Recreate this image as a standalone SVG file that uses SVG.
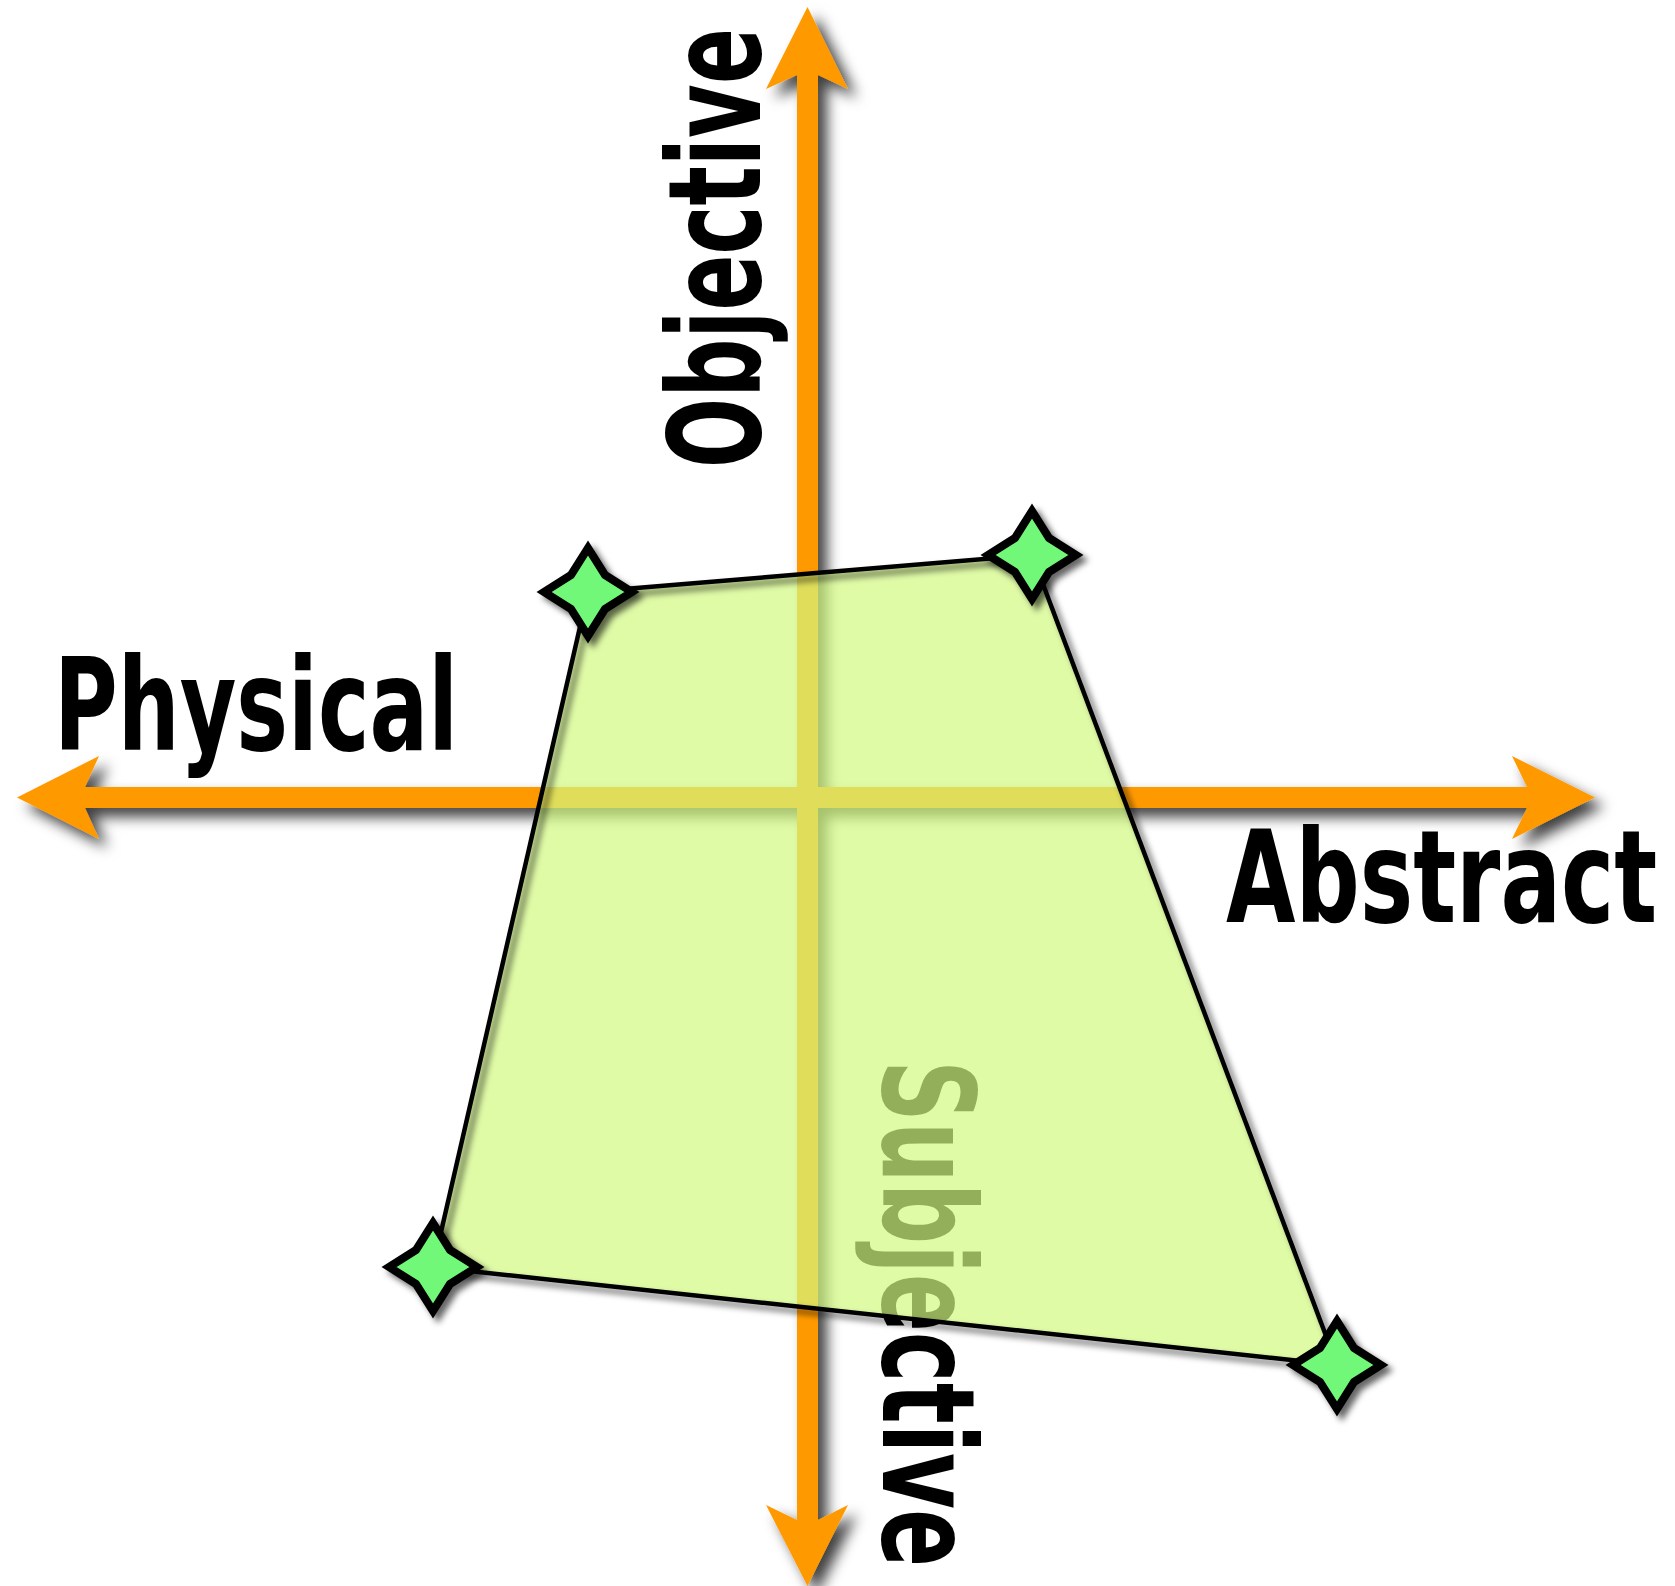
<svg xmlns="http://www.w3.org/2000/svg" width="1675" height="1586" viewBox="0 0 1675 1586">
<style>
.lbl{font-family:"DejaVu Sans","Liberation Sans",sans-serif;font-weight:bold;font-size:128px;fill:#000}
.axis{fill:#ff9900}
.star{fill:#72f878;stroke:#000;stroke-width:8;stroke-linejoin:miter;stroke-miterlimit:10}
.edge{fill:none;stroke:#000;stroke-width:4.5;stroke-linejoin:round}
</style>
<defs>
<filter id="axisShadow" x="-10%" y="-10%" width="130%" height="130%">
<feDropShadow dx="9" dy="9" stdDeviation="7" flood-color="#000" flood-opacity="0.75"/>
</filter>
<filter id="smallShadow" x="-20%" y="-20%" width="150%" height="150%">
<feDropShadow dx="5" dy="5" stdDeviation="3" flood-color="#000" flood-opacity="0.6"/>
</filter>
<path id="starShape" d="M0,-44 L17,-17 L44,0 L17,17 L0,44 L-17,17 L-44,0 L-17,-17 Z"/>
</defs>
<rect width="1675" height="1586" fill="#fff"/>
<g id="axes" filter="url(#axisShadow)">
<polygon id="axis-h" class="axis" points="17,797.5 99,756 85,787 1527,787 1512,756 1595,797.5 1512,839 1527,808 85,808 99,839"/>
<polygon id="axis-v" class="axis" points="807.5,7 848,89 818,75 818,1520 848,1505 807.5,1586 766,1505 797,1520 797,75 766,89"/>
</g>
<g id="labels">
<text id="label-physical" class="lbl" transform="translate(54,750) scale(0.687,1)" x="0" y="0" textLength="588" lengthAdjust="spacingAndGlyphs">Physical</text>
<text id="label-abstract" class="lbl" transform="translate(1226,922) scale(0.701,1)" x="0" y="0" textLength="615" lengthAdjust="spacingAndGlyphs">Abstract</text>
<text id="label-objective" class="lbl" transform="translate(760,468) rotate(-90) scale(0.645,1)" x="0" y="0" textLength="682" lengthAdjust="spacingAndGlyphs">Objective</text>
<text id="label-subjective" class="lbl" transform="translate(883,1060) rotate(90) scale(0.67,1)" x="0" y="0" textLength="757" lengthAdjust="spacingAndGlyphs">Subjective</text>
</g>
<g id="region">
<polygon points="588,592 1032,555 1337,1365 433,1267" fill="#d2fa80" fill-opacity="0.7"/>
</g>
<g id="connectors" filter="url(#smallShadow)">
<line class="edge" x1="588" y1="592" x2="1032" y2="555"/>
<line class="edge" x1="1032" y1="555" x2="1337" y2="1365"/>
<line class="edge" x1="1337" y1="1365" x2="433" y2="1267"/>
<line class="edge" x1="433" y1="1267" x2="588" y2="592"/>
</g>
<g id="star-top-left" filter="url(#smallShadow)"><use href="#starShape" class="star" transform="translate(588,592)"/></g>
<g id="star-top-right" filter="url(#smallShadow)"><use href="#starShape" class="star" transform="translate(1032,555)"/></g>
<g id="star-bottom-right" filter="url(#smallShadow)"><use href="#starShape" class="star" transform="translate(1337,1365)"/></g>
<g id="star-bottom-left" filter="url(#smallShadow)"><use href="#starShape" class="star" transform="translate(433,1267)"/></g>
</svg>
